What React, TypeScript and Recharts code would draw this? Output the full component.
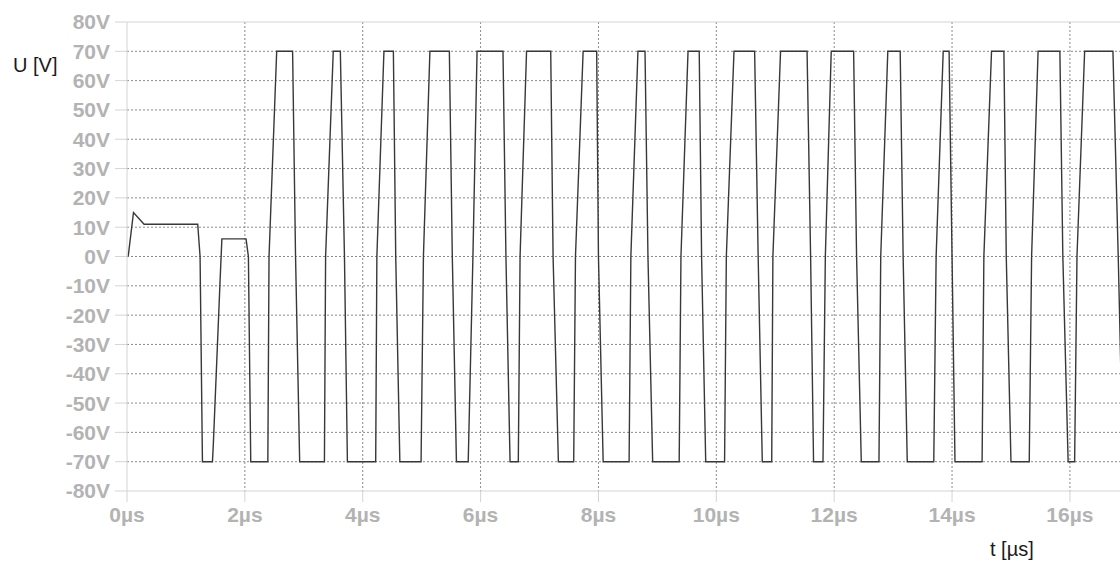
import { CartesianGrid, Line, LineChart, ReferenceLine, XAxis, YAxis } from "recharts";

const HIGH = 70;
const LOW = -70;

// start-up transient before the switching settles in (µs / V)
const startupTime = [0.02, 0.11, 0.29, 1.2, 1.24, 1.28, 1.45, 1.465, 1.58, 1.61, 2.02, 2.06, 2.1];
const startupVolt = [0, 15, 11, 11, 0, -70, -70, -64, -8, 6, 6, 0, -70];

// switching edges of the square wave, µs
const riseStart = [2.39, 3.35, 4.22, 4.99, 5.79, 6.64, 7.58, 8.52, 9.37, 10.14, 10.94, 11.81, 12.76, 13.69, 14.51, 15.31, 16.08];
const riseZero = [2.41, 3.37, 4.24, 5.03, 5.87, 6.67, 7.61, 8.55, 9.4, 10.17, 10.96, 11.85, 12.79, 13.73, 14.54, 15.35, 16.12];
const riseTop = [2.54, 3.5, 4.36, 5.14, 5.94, 6.78, 7.74, 8.67, 9.52, 10.3, 11.09, 11.95, 12.91, 13.85, 14.67, 15.46, 16.25];
const fallStart = [2.81, 3.62, 4.52, 5.47, 6.38, 7.19, 7.97, 8.79, 9.71, 10.65, 11.54, 12.33, 13.12, 13.95, 14.88, 15.83, 16.73];
const fallZero = [2.86, 3.69, 4.56, 5.52, 6.43, 7.23, 8.0, 8.84, 9.75, 10.71, 11.6, 12.38, 13.17, 14.0, 14.92, 15.88, 16.82];
const fallBottom = [2.93, 3.74, 4.63, 5.59, 6.5, 7.32, 8.08, 8.92, 9.82, 10.78, 11.65, 12.46, 13.24, 14.05, 15.0, 15.97, 16.9];

const yTicks = [-80, -70, -60, -50, -40, -30, -20, -10, 0, 10, 20, 30, 40, 50, 60, 70, 80];
const xTicks = [0, 2, 4, 6, 8, 10, 12, 14, 16];
const gridY = [-70, -60, -50, -40, -30, -20, -10, 0, 10, 20, 30, 40, 50, 60, 70];
const gridX = [2, 4, 6, 8, 10, 12, 14, 16];

const waveform = startupTime.map((t, i) => ({ t, u: startupVolt[i] }));
riseStart.forEach((_, i) => {
  waveform.push(
    { t: riseStart[i], u: LOW },
    { t: riseZero[i], u: 0 },
    { t: riseTop[i], u: HIGH },
    { t: fallStart[i], u: HIGH },
    { t: fallZero[i], u: 0 },
    { t: fallBottom[i], u: LOW }
  );
});

const tickStyle = {
  fill: "#b3b3b3",
  fontSize: 21,
  fontWeight: "bold",
  fontFamily: "'Liberation Sans', Arial, sans-serif",
};

const frame = "#d4d4d4";

export default function App() {
  return (
    <div
      style={{
        position: "absolute",
        left: 0,
        top: 0,
        width: 1120,
        height: 565,
        overflow: "hidden",
        background: "#fff",
        fontFamily: "'Liberation Sans', Arial, sans-serif",
      }}
    >
      <LineChart width={1120} height={565} data={waveform} margin={{ top: 22, right: 0, bottom: 0, left: 0 }}>
        <CartesianGrid
          stroke="#8a8a8a"
          strokeDasharray="2 2"
          horizontalValues={gridY}
          verticalValues={gridX}
        />
        <XAxis
          dataKey="t"
          type="number"
          domain={[0, 16.85]}
          allowDataOverflow
          ticks={xTicks}
          interval={0}
          tickFormatter={(v) => `${v}µs`}
          height={74}
          tickSize={11}
          tickMargin={5}
          axisLine={{ stroke: frame }}
          tickLine={{ stroke: frame }}
          tick={tickStyle}
        />
        <YAxis
          type="number"
          domain={[-80, 80]}
          ticks={yTicks}
          interval={0}
          tickFormatter={(v) => `${v}V`}
          width={127}
          tickSize={12}
          tickMargin={5}
          axisLine={{ stroke: frame }}
          tickLine={{ stroke: frame }}
          tick={tickStyle}
        />
        <ReferenceLine y={80} stroke={frame} />
        <Line
          type="linear"
          dataKey="u"
          stroke="#383838"
          strokeWidth={1.4}
          dot={false}
          isAnimationActive={false}
        />
      </LineChart>
      <div style={{ position: "absolute", left: 13, top: 55, fontSize: 20, lineHeight: "20px", color: "#1a1a1a" }}>
        U [V]
      </div>
      <div style={{ position: "absolute", left: 990, top: 539, fontSize: 20, lineHeight: "20px", color: "#1a1a1a" }}>
        t [µs]
      </div>
    </div>
  );
}
